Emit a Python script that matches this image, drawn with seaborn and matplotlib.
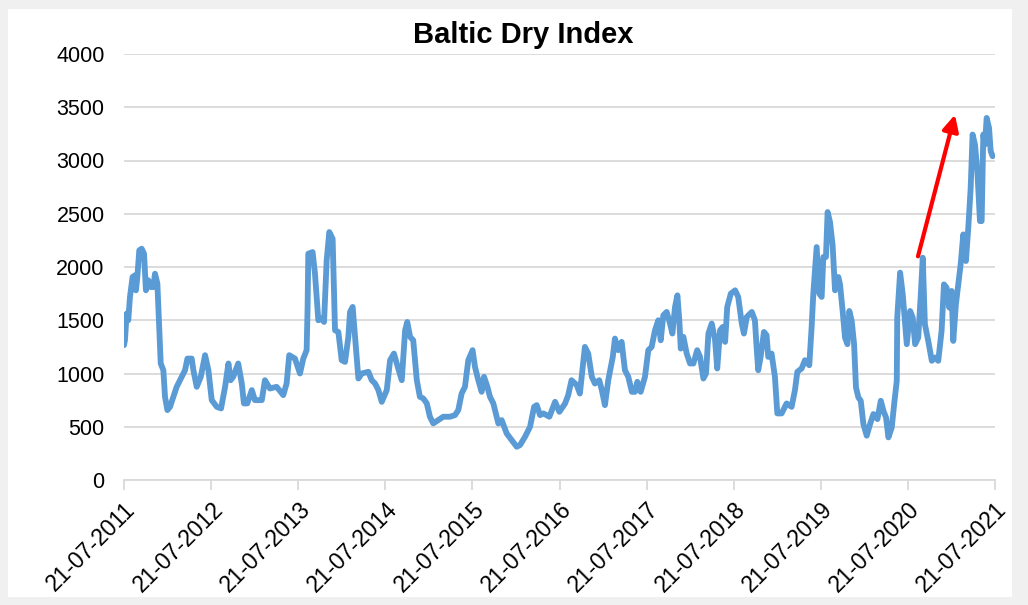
import matplotlib
matplotlib.use("Agg")
import matplotlib.pyplot as plt
from matplotlib.patches import Rectangle
import pandas as pd
import seaborn as sns

# Baltic Dry Index (days after 21-07-2011, index value)
start = pd.Timestamp("2011-07-21")
day_offset = [
    0, 4, 11, 18, 25, 36, 46, 50, 56, 64, 74, 84, 92, 102, 112, 123, 130, 140, 148, 154,
    165, 172, 182, 193, 207, 221, 242, 256, 266, 284, 291, 305, 322, 340, 354, 368, 389, 407, 424, 438,
    447, 458, 479, 494, 503, 517, 536, 549, 578, 591, 612, 640, 668, 682, 693, 717, 738, 752, 766,
    770, 773, 791, 801, 815, 829, 839, 850, 861, 875, 885, 899, 913, 927, 941, 948, 959, 969, 983, 997,
    1025, 1039, 1053, 1067, 1081, 1102, 1116, 1132, 1144, 1165, 1179, 1188, 1200, 1213, 1228, 1241, 1255, 1270, 1283, 1297,
    1318, 1339, 1367, 1388, 1402, 1416, 1430, 1444, 1462, 1472, 1486, 1500, 1510, 1524, 1535,
    1549, 1570, 1584, 1605, 1626, 1647, 1661, 1682, 1703, 1720, 1731, 1745, 1759, 1784, 1808, 1826, 1850, 1863, 1877, 1899,
    1912, 1924, 1933, 1947, 1962, 1975, 1993, 2004, 2017, 2031, 2050, 2059, 2073, 2087, 2101, 2115, 2130, 2143, 2153, 2167,
    2185, 2199, 2213, 2227, 2241, 2251, 2262, 2276, 2290, 2300, 2311, 2321, 2329, 2335, 2346, 2360, 2374, 2388, 2404, 2416,
    2430, 2441, 2451, 2465, 2479, 2488, 2500, 2511, 2521, 2530, 2545, 2563, 2576, 2591, 2600, 2612, 2633, 2646, 2654, 2660,
    2670, 2684, 2695, 2702, 2716, 2730, 2740, 2758, 2779, 2800, 2814, 2824, 2842, 2856, 2874, 2884, 2891, 2905, 2916, 2926,
    2933, 2944, 2951, 2961, 2972, 2982, 2996,
    3003, 3014, 3024, 3034, 3042, 3052, 3062, 3070, 3080, 3090, 3101, 3115, 3129, 3143, 3160, 3174, 3185, 3196, 3206, 3220,
    3230, 3241, 3243, 3255, 3266, 3276, 3283, 3297, 3308, 3318, 3331, 3341, 3350, 3359, 3373, 3388, 3401, 3415, 3429, 3439,
    3450, 3461, 3471, 3478, 3489, 3499, 3509, 3520, 3531, 3541, 3551, 3559, 3569, 3579, 3590, 3597, 3604, 3611, 3618, 3628,
    3635, 3643,
]
bdi = [
    1266, 1312, 1562, 1500, 1719, 1906, 1922, 1781, 1906, 2156, 2172, 2125, 1781, 1875, 1812, 1812, 1937, 1844, 1406, 1094,
    1031, 781, 656, 687, 781, 875, 969, 1031, 1140, 1140, 1031, 875, 969, 1172, 1031, 750, 687, 672, 875, 1094,
    937, 969, 1094, 906, 719, 719, 844, 750, 750, 937, 859, 875, 797, 906, 1172, 1140, 1000, 1140, 1219,
    1625, 2125, 2140, 1937, 1500, 1516, 1484, 2062, 2328, 2265, 1406, 1390, 1125, 1109, 1344, 1578, 1625, 1344, 953, 1000,
    1016, 937, 906, 844, 734, 844, 1125, 1187, 1094, 937, 1406, 1484, 1344, 1312, 937, 781, 766, 719, 594, 531,
    562, 594, 594, 609, 656, 812, 875, 1125, 1219, 1062, 937, 828, 969, 875, 781,
    719, 531, 562, 437, 375, 312, 328, 406, 500, 687, 703, 609, 625, 594, 734, 640, 719, 797, 937, 891,
    812, 1062, 1250, 1187, 969, 906, 937, 844, 703, 937, 1156, 1328, 1219, 1297, 1031, 969, 828, 828, 922, 828,
    969, 1219, 1250, 1406, 1500, 1312, 1547, 1578, 1469, 1375, 1625, 1734, 1500, 1234, 1344, 1187, 1094, 1094, 1219, 1156,
    953, 1000, 1375, 1469, 1312, 1047, 1406, 1437, 1297, 1625, 1750, 1781, 1719, 1469, 1375, 1531, 1578, 1500, 1219, 1031,
    1156, 1390, 1359, 1156, 1187, 969, 625, 625, 719, 687, 844, 1016, 1047, 1125, 1078, 1437, 1750, 2187, 1750, 1719,
    2094, 2094, 2516, 2422, 2203, 1781, 1906,
    1837, 1587, 1337, 1275, 1587, 1494, 1275, 869, 775, 744, 525, 416, 525, 619, 572, 744, 650, 587, 400, 494,
    712, 931, 1525, 1947, 1744, 1462, 1275, 1587, 1525, 1275, 1337, 1712, 2087, 1462, 1306, 1119, 1150, 1119, 1400, 1837,
    1806, 1619, 1775, 1306, 1650, 1837, 2025, 2306, 2056, 2369, 2744, 3244, 3150, 2900, 2431, 2431, 3244, 3150, 3400, 3306,
    3087, 3040,
]
tick_years = list(range(2011, 2022))
y_ticks = [0, 500, 1000, 1500, 2000, 2500, 3000, 3500, 4000]
# red arrow (days after start, index value)
arrow_from = (3330, 2100)
arrow_to = (3485, 3430)

df = pd.DataFrame({"date": start + pd.to_timedelta(day_offset, unit="D"), "bdi": bdi})
tick_dates = [pd.Timestamp(f"{y}-07-21") for y in tick_years]

sns.set_theme(style="white")
plt.rcParams["font.family"] = ["Liberation Sans", "DejaVu Sans"]

W, H = 1028, 605
fig = plt.figure(figsize=(W / 100, H / 100), dpi=100)
fig.patch.set_facecolor("#f0f0f0")
fig.patches.append(Rectangle((8 / W, 8 / H), 1004 / W, 588 / H, transform=fig.transFigure,
                             facecolor="white", edgecolor="none", zorder=-10))

ax = fig.add_axes([124 / W, 1 - 480 / H, 871 / W, 426 / H])
ax.set_zorder(1)
ax.patch.set_alpha(0)

sns.lineplot(data=df, x="date", y="bdi", ax=ax, color="#5b9bd5", linewidth=4.2)

ax.annotate("", xy=(start + pd.Timedelta(days=arrow_to[0]), arrow_to[1]),
            xytext=(start + pd.Timedelta(days=arrow_from[0]), arrow_from[1]),
            arrowprops=dict(arrowstyle="-|>", color="#ff0000", lw=3, mutation_scale=24,
                            shrinkA=0, shrinkB=0))

ax.set_xlim(tick_dates[0], tick_dates[-1])
ax.set_ylim(0, 4000)
ax.set_yticks(y_ticks)
ax.set_xticks(tick_dates)
ax.set_xticklabels([d.strftime("%d-%m-%Y") for d in tick_dates], rotation=45,
                   ha="right", rotation_mode="anchor")
ax.set_xlabel("")
ax.set_ylabel("")

ax.yaxis.grid(True, color="#d9d9d9", linewidth=1.3)
ax.set_axisbelow(True)
for s in ["left", "right", "top"]:
    ax.spines[s].set_visible(False)
ax.spines["bottom"].set_color("#d9d9d9")
ax.spines["bottom"].set_linewidth(1.3)
ax.tick_params(axis="x", direction="out", length=7, width=1.3, color="#d9d9d9",
               labelsize=16.5, labelcolor="#000000", pad=6, bottom=True)
ax.tick_params(axis="y", length=0, labelsize=15.5, labelcolor="#000000", pad=14)

fig.text(523 / W, 1 - 43 / H, "Baltic Dry Index", ha="center", va="baseline",
         fontsize=21, fontweight="bold", color="#000000")

fig.savefig("out.png", dpi=100)
